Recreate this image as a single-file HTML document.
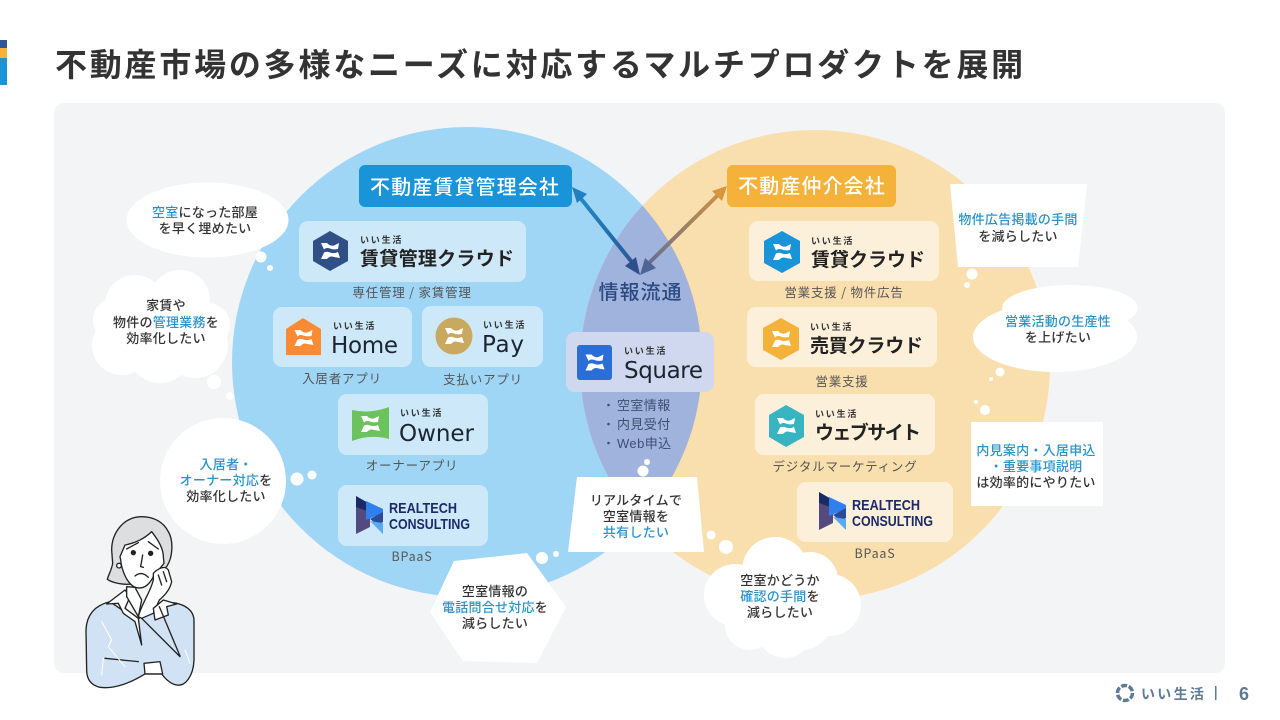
<!DOCTYPE html>
<html lang="ja"><head><meta charset="utf-8"><style>
html,body{margin:0;padding:0;background:#fff;width:1280px;height:720px;overflow:hidden}
svg{display:block}
text{font-family:"Liberation Sans","Noto Sans CJK JP",sans-serif}
.j{font-family:"Noto Sans CJK JP",sans-serif}
.b{font-size:13px;fill:#333;text-anchor:middle;font-weight:500;font-family:"Noto Sans CJK JP",sans-serif;letter-spacing:.25px}
.c{fill:#2a94c8}
.s{font-size:12.500px;fill:#555;text-anchor:middle;font-family:"Noto Sans CJK JP",sans-serif;letter-spacing:.8px}
.i{font-size:9px;font-weight:700;fill:#333;font-family:"Noto Sans CJK JP",sans-serif;letter-spacing:1.8px}
.n{font-size:19px;font-weight:700;fill:#222;font-family:"Noto Sans CJK JP",sans-serif}
.e{font-size:23px;fill:#1c2430;font-family:"DejaVu Sans",sans-serif}
.r{font-size:15px;font-weight:700;fill:#1b2a66;font-family:"Liberation Sans",sans-serif}
.h{font-size:20px;fill:#fff;text-anchor:middle;font-weight:500;font-family:"Noto Sans CJK JP",sans-serif;letter-spacing:1.1px}
</style></head><body>
<svg width="1280" height="720" viewBox="0 0 1280 720" xmlns="http://www.w3.org/2000/svg">
<defs>
<clipPath id="lc"><circle cx="467" cy="362" r="235"/></clipPath>
<linearGradient id="g1" gradientUnits="userSpaceOnUse" x1="572" y1="187" x2="640" y2="274"><stop offset="0" stop-color="#1a94d8"/><stop offset="1" stop-color="#2f4f8a"/></linearGradient>
<linearGradient id="g2" gradientUnits="userSpaceOnUse" x1="726" y1="187" x2="640" y2="272"><stop offset="0" stop-color="#d8953a"/><stop offset="1" stop-color="#5a6a9a"/></linearGradient>
<g id="m" fill="#fff"><path d="M-9 -8 L-3 -8 Q0 -4.500 4 -5.500 L9 -8 L8 -2 Q3 -1 0 -2.500 Q-4 -4 -6 -1.500Z"/><path d="M-9 8 L-6 1.500 Q-3 0 0 1.500 Q4 3 8 1 L10 7 L4 6 Q0 4.500 -3 8Z"/></g>
<g id="rt"><path d="M0 10 L0 38 L14 31 L14 16Z" fill="#554a80"/><path d="M0 0 L14 8 L14 16 L0 11Z" fill="#1b2a66"/><path d="M10 5 L27 13 L27 17 L10 24Z" fill="#2f80ed"/><path d="M14 23 L27 16 L27 26 L22 29Z" fill="#2a4a9a"/><path d="M14 25 L27 27 L27 38Z" fill="#5aa8f0"/></g>
</defs>

<rect x="0" y="40" width="7" height="9" fill="#2f5597"/>
<rect x="0" y="48" width="7" height="10" fill="#f5b23b"/>
<rect x="0" y="58" width="7" height="27" fill="#1a94d8"/>
<text x="55" y="76" class="j" font-size="32" font-weight="700" fill="#333" letter-spacing="2.780">不動産市場の多様なニーズに対応するマルチプロダクトを展開</text>

<rect x="54" y="103" width="1171" height="570" rx="10" fill="#f3f4f6"/>
<circle cx="467" cy="362" r="235" fill="#a0d6f5"/>
<circle cx="815" cy="365" r="235" fill="#fadfae"/>
<circle cx="815" cy="365" r="235" fill="#9fb3dc" clip-path="url(#lc)"/>

<!-- headers -->
<rect x="359" y="165" width="213" height="42" rx="6" fill="#1a94d8"/>
<text x="465" y="194" class="h">不動産賃貸管理会社</text>
<rect x="727" y="165" width="169" height="42" rx="6" fill="#f5b23b"/>
<text x="812" y="193" class="h">不動産仲介会社</text>

<!-- arrows -->
<g fill="none" stroke-width="4">
<line x1="578" y1="195" x2="635" y2="266" stroke="url(#g1)"/>
<line x1="720" y1="193" x2="646" y2="266" stroke="url(#g2)"/>
</g>
<path d="M572 187 L587 194 L577 203Z" fill="#1f7fc0"/>
<path d="M640 275 L625 266 L636 257Z" fill="#2f4f8a"/>
<path d="M727 186 L722 201 L712 191Z" fill="#d8953a"/>
<path d="M640 275 L645 258 L656 268Z" fill="#4f6496"/>
<text x="640.500" y="299" text-anchor="middle" class="j" font-size="20" font-weight="500" fill="#2c4a82" letter-spacing="1">情報流通</text>

<!-- left cards -->
<rect x="299" y="221" width="227" height="61" rx="9" fill="#cde9f9"/>
<path d="M330 231 L348 241 L348 261 L330 271 L313 261 L313 241Z" fill="#2f4f86"/><use href="#m" x="330" y="251"/>
<text x="360" y="243" class="i">いい生活</text>
<text x="360" y="265" class="n" textLength="154">賃貸管理クラウド</text>
<text x="412" y="297" class="s">専任管理 / 家賃管理</text>

<rect x="273" y="307" width="139" height="60" rx="9" fill="#cde9f9"/>
<path d="M303 318 L321 329 L321 355 L286 355 L286 329Z" fill="#fb8a35"/><use href="#m" x="303.500" y="338"/>
<text x="333" y="329" class="i">いい生活</text>
<text x="331" y="353" class="e" textLength="67">Home</text>
<text x="342" y="383" class="s">入居者アプリ</text>

<rect x="422" y="306" width="121" height="61" rx="9" fill="#cde9f9"/>
<circle cx="454" cy="336" r="18.500" fill="#c8a95f"/><use href="#m" x="454" y="336"/>
<text x="483" y="328" class="i">いい生活</text>
<text x="482" y="352" class="e" textLength="42">Pay</text>
<text x="483" y="384" class="s">支払いアプリ</text>

<rect x="338" y="394" width="150" height="61" rx="9" fill="#cde9f9"/>
<path d="M352 410 Q370 414 389 407 L389 439 Q370 434 352 441Z" fill="#6cc25c"/><use href="#m" x="370" y="424"/>
<text x="400" y="416" class="i">いい生活</text>
<text x="399" y="441" class="e" textLength="75">Owner</text>
<text x="412" y="470" class="s">オーナーアプリ</text>

<rect x="338" y="485" width="150" height="61" rx="9" fill="#cde9f9"/>
<use href="#rt" x="356" y="496"/>
<text x="389" y="513" class="r" textLength="68" lengthAdjust="spacingAndGlyphs">REALTECH</text>
<text x="389" y="529" class="r" textLength="81" lengthAdjust="spacingAndGlyphs">CONSULTING</text>
<text x="412" y="561" class="s">BPaaS</text>

<!-- center -->
<rect x="566" y="332" width="148" height="60" rx="9" fill="#cfd8ee"/>
<rect x="577" y="345" width="35" height="35" rx="3" fill="#2b6fd6"/><use href="#m" x="594.500" y="362.500"/>
<text x="624" y="354" class="i">いい生活</text>
<text x="624" y="378" class="e" textLength="79">Square</text>
<g font-size="13" fill="#3f4f70" class="j" letter-spacing=".4">
<circle cx="608.500" cy="405" r="1.300"/><text x="617" y="410">空室情報</text>
<circle cx="608.500" cy="424" r="1.300"/><text x="617" y="429">内見受付</text>
<circle cx="608.500" cy="443" r="1.300"/><text x="617" y="448">Web申込</text>
</g>

<!-- right cards -->
<rect x="749" y="221" width="190" height="60" rx="9" fill="#fdf0da"/>
<path d="M782 231 L800 241 L800 263 L782 273 L764 263 L764 241Z" fill="#1a94d8"/><use href="#m" x="782" y="252"/>
<text x="811" y="244" class="i">いい生活</text>
<text x="811" y="266" class="n" textLength="114">賃貸クラウド</text>
<text x="844" y="297" class="s">営業支援 / 物件広告</text>

<rect x="747" y="307" width="190" height="60" rx="9" fill="#fdf0da"/>
<path d="M781 318 L799 328 L799 350 L781 360 L763 350 L763 328Z" fill="#f5b23b"/><use href="#m" x="781" y="339"/>
<text x="810" y="330" class="i">いい生活</text>
<text x="810" y="352" class="n" textLength="113">売買クラウド</text>
<text x="842" y="386" class="s">営業支援</text>

<rect x="755" y="394" width="180" height="61" rx="9" fill="#fdf0da"/>
<path d="M786 405 L804 415 L804 437 L786 447 L769 437 L769 415Z" fill="#38b4c0"/><use href="#m" x="786" y="426"/>
<text x="815" y="417" class="i">いい生活</text>
<text x="815" y="439" class="n" textLength="106">ウェブサイト</text>
<text x="845" y="471" class="s">デジタルマーケティング</text>

<rect x="797" y="482" width="156" height="60" rx="9" fill="#fdf0da"/>
<use href="#rt" x="819" y="492"/>
<text x="852" y="510" class="r" textLength="68" lengthAdjust="spacingAndGlyphs">REALTECH</text>
<text x="852" y="526" class="r" textLength="81" lengthAdjust="spacingAndGlyphs">CONSULTING</text>
<text x="875" y="558" class="s">BPaaS</text>

<!-- bubbles -->
<g fill="#fff">
<ellipse cx="207.500" cy="220" rx="81" ry="37.500"/>
<circle cx="261" cy="257" r="5.500"/><circle cx="270" cy="268" r="3"/>
<g><circle cx="135" cy="305" r="30"/><circle cx="180" cy="300" r="30"/><circle cx="122" cy="345" r="30"/><circle cx="195" cy="345" r="33"/><circle cx="160" cy="350" r="33"/><circle cx="160" cy="325" r="40"/><circle cx="115" cy="320" r="22"/><circle cx="208" cy="325" r="22"/></g>
<circle cx="214" cy="382" r="7"/><circle cx="230" cy="396" r="4"/>
<circle cx="223" cy="481" r="63"/>
<circle cx="297" cy="479" r="6.500"/><circle cx="312" cy="475" r="4.500"/>
<path d="M454 561 L527 553 L566 607 L537 663 L463 661 L430 612Z"/>
<circle cx="542" cy="558" r="6"/><circle cx="556" cy="554" r="3"/>
<path d="M577 477 L697 477 L704 552 L568 552Z"/>
<circle cx="643" cy="471" r="5.500"/><circle cx="647" cy="462" r="3"/>
<circle cx="711" cy="535" r="4.500"/><circle cx="726" cy="547" r="7"/>
<g><circle cx="775" cy="570" r="33"/><circle cx="810" cy="580" r="28"/><circle cx="830" cy="605" r="31"/><circle cx="735" cy="595" r="31"/><circle cx="750" cy="625" r="25"/><circle cx="785" cy="630" r="28"/><circle cx="800" cy="615" r="35"/><circle cx="770" cy="600" r="40"/></g>
<path d="M950 184 L1087 184 L1078 267 L958 267Z"/>
<circle cx="972" cy="274" r="5.500"/><circle cx="967" cy="285" r="3"/>
<g><ellipse cx="1070" cy="308" rx="68" ry="23"/><ellipse cx="1055" cy="337" rx="82" ry="35"/></g>
<circle cx="1000" cy="372" r="4.500"/><circle cx="991" cy="379" r="2"/>
<circle cx="976" cy="402" r="2"/><circle cx="985" cy="410" r="5"/>
<rect x="971" y="422" width="132" height="84"/>
</g>

<text class="b" y="217" x="205"><tspan class="c">空室</tspan>になった部屋</text>
<text class="b" y="233" x="205">を早く埋めたい</text>
<text class="b" y="310" x="166">家賃や</text>
<text class="b" y="327" x="166">物件の<tspan class="c">管理業務</tspan>を</text>
<text class="b" y="343" x="166">効率化したい</text>
<text class="b" y="469" x="226"><tspan class="c">入居者・</tspan></text>
<text class="b" y="485" x="226"><tspan class="c">オーナー対応</tspan>を</text>
<text class="b" y="501" x="226">効率化したい</text>
<text class="b" y="596" x="495">空室情報の</text>
<text class="b" y="612" x="495"><tspan class="c">電話問合せ対応</tspan>を</text>
<text class="b" y="628" x="495">減らしたい</text>
<text class="b" y="505" x="636">リアルタイムで</text>
<text class="b" y="521" x="636">空室情報を</text>
<text class="b" y="537" x="636"><tspan class="c">共有したい</tspan></text>
<text class="b" y="585" x="780">空室かどうか</text>
<text class="b" y="601" x="780"><tspan class="c">確認の手間</tspan>を</text>
<text class="b" y="617" x="780">減らしたい</text>
<text class="b" y="224" x="1018"><tspan class="c">物件広告掲載の手間</tspan></text>
<text class="b" y="241" x="1018">を減らしたい</text>
<text class="b" y="326" x="1058"><tspan class="c">営業活動の生産性</tspan></text>
<text class="b" y="342" x="1058">を上げたい</text>
<text class="b" y="455" x="1036"><tspan class="c">内見案内・入居申込</tspan></text>
<text class="b" y="471" x="1036"><tspan class="c">・重要事項説明</tspan></text>
<text class="b" y="487" x="1036">は効率的にやりたい</text>

<!-- person: drawn in 3x crop coordinates -->
<g transform="translate(70,400) scale(.3333)" stroke="#222" stroke-width="4" stroke-linejoin="round" stroke-linecap="round">
<path d="M48 690 C50 640 80 615 120 605 L200 660 L270 610 C320 600 370 620 372 660 L372 780 C370 830 345 860 320 855 C300 852 285 835 275 822 L225 822 C180 850 130 868 90 862 C60 855 50 835 50 810Z" fill="#d2e2f5"/>
<path d="M215 350 C160 350 125 400 125 450 L128 490 C125 510 115 525 112 538 C130 550 160 555 185 552 L240 540 L290 500 C310 470 310 420 295 395 C280 365 250 350 215 350Z" fill="#dcdedf"/>
<path d="M110 612 L165 570 L180 590 L165 625 L205 655 L215 735 L195 665 L160 640 L145 610Z" fill="#fff"/>
<path d="M165 435 C195 430 225 415 245 395 C265 420 280 445 280 470 L282 490 L250 530 C235 560 215 568 195 562 C170 550 155 510 152 480 L150 470Z" fill="#fff"/>
<path d="M170 560 L170 590 L205 650 L215 600 L195 562Z" fill="#fff"/>
<path d="M250 520 C265 505 285 495 295 510 L305 545 C300 570 280 590 268 600 L250 640 L215 655 L205 650 C215 610 240 580 250 540Z" fill="#fff"/>
<path d="M250 625 L280 600 L320 612 L290 620 L295 645 L255 660Z" fill="#fff"/>
<path d="M222 790 L270 785 L278 822 L225 822Z" fill="#fff"/>
<path d="M215 655 L330 770 M268 620 L330 768 M105 775 L205 785 M265 525 L275 555 M280 515 L290 545" fill="none"/>
<circle cx="190" cy="458" r="6" fill="#222"/><circle cx="242" cy="460" r="6" fill="#222"/>
<path d="M170 447 L205 428 M235 425 L265 447 M218 465 L212 500 L220 502 M195 528 Q215 512 235 532" fill="none"/>
<circle cx="147" cy="497" r="7" fill="#fff"/>
<path d="M95 665 L125 720 L115 740 L165 800 M95 825 L100 775 M345 750 L360 790" fill="none" stroke="#fff" stroke-width="3"/>
</g>

<!-- footer -->
<circle cx="1125" cy="693" r="7.500" fill="none" stroke="#5f7a94" stroke-width="3.500" stroke-dasharray="6 1.800"/>
<text x="1141" y="699" class="j" font-size="14" font-weight="700" fill="#5f7a94" letter-spacing="2.300">いい生活</text>
<rect x="1215" y="686" width="1.500" height="14" fill="#5f7a94"/>
<text x="1239" y="700" font-size="18" font-weight="700" fill="#5f7a94">6</text>
</svg>
</body></html>
